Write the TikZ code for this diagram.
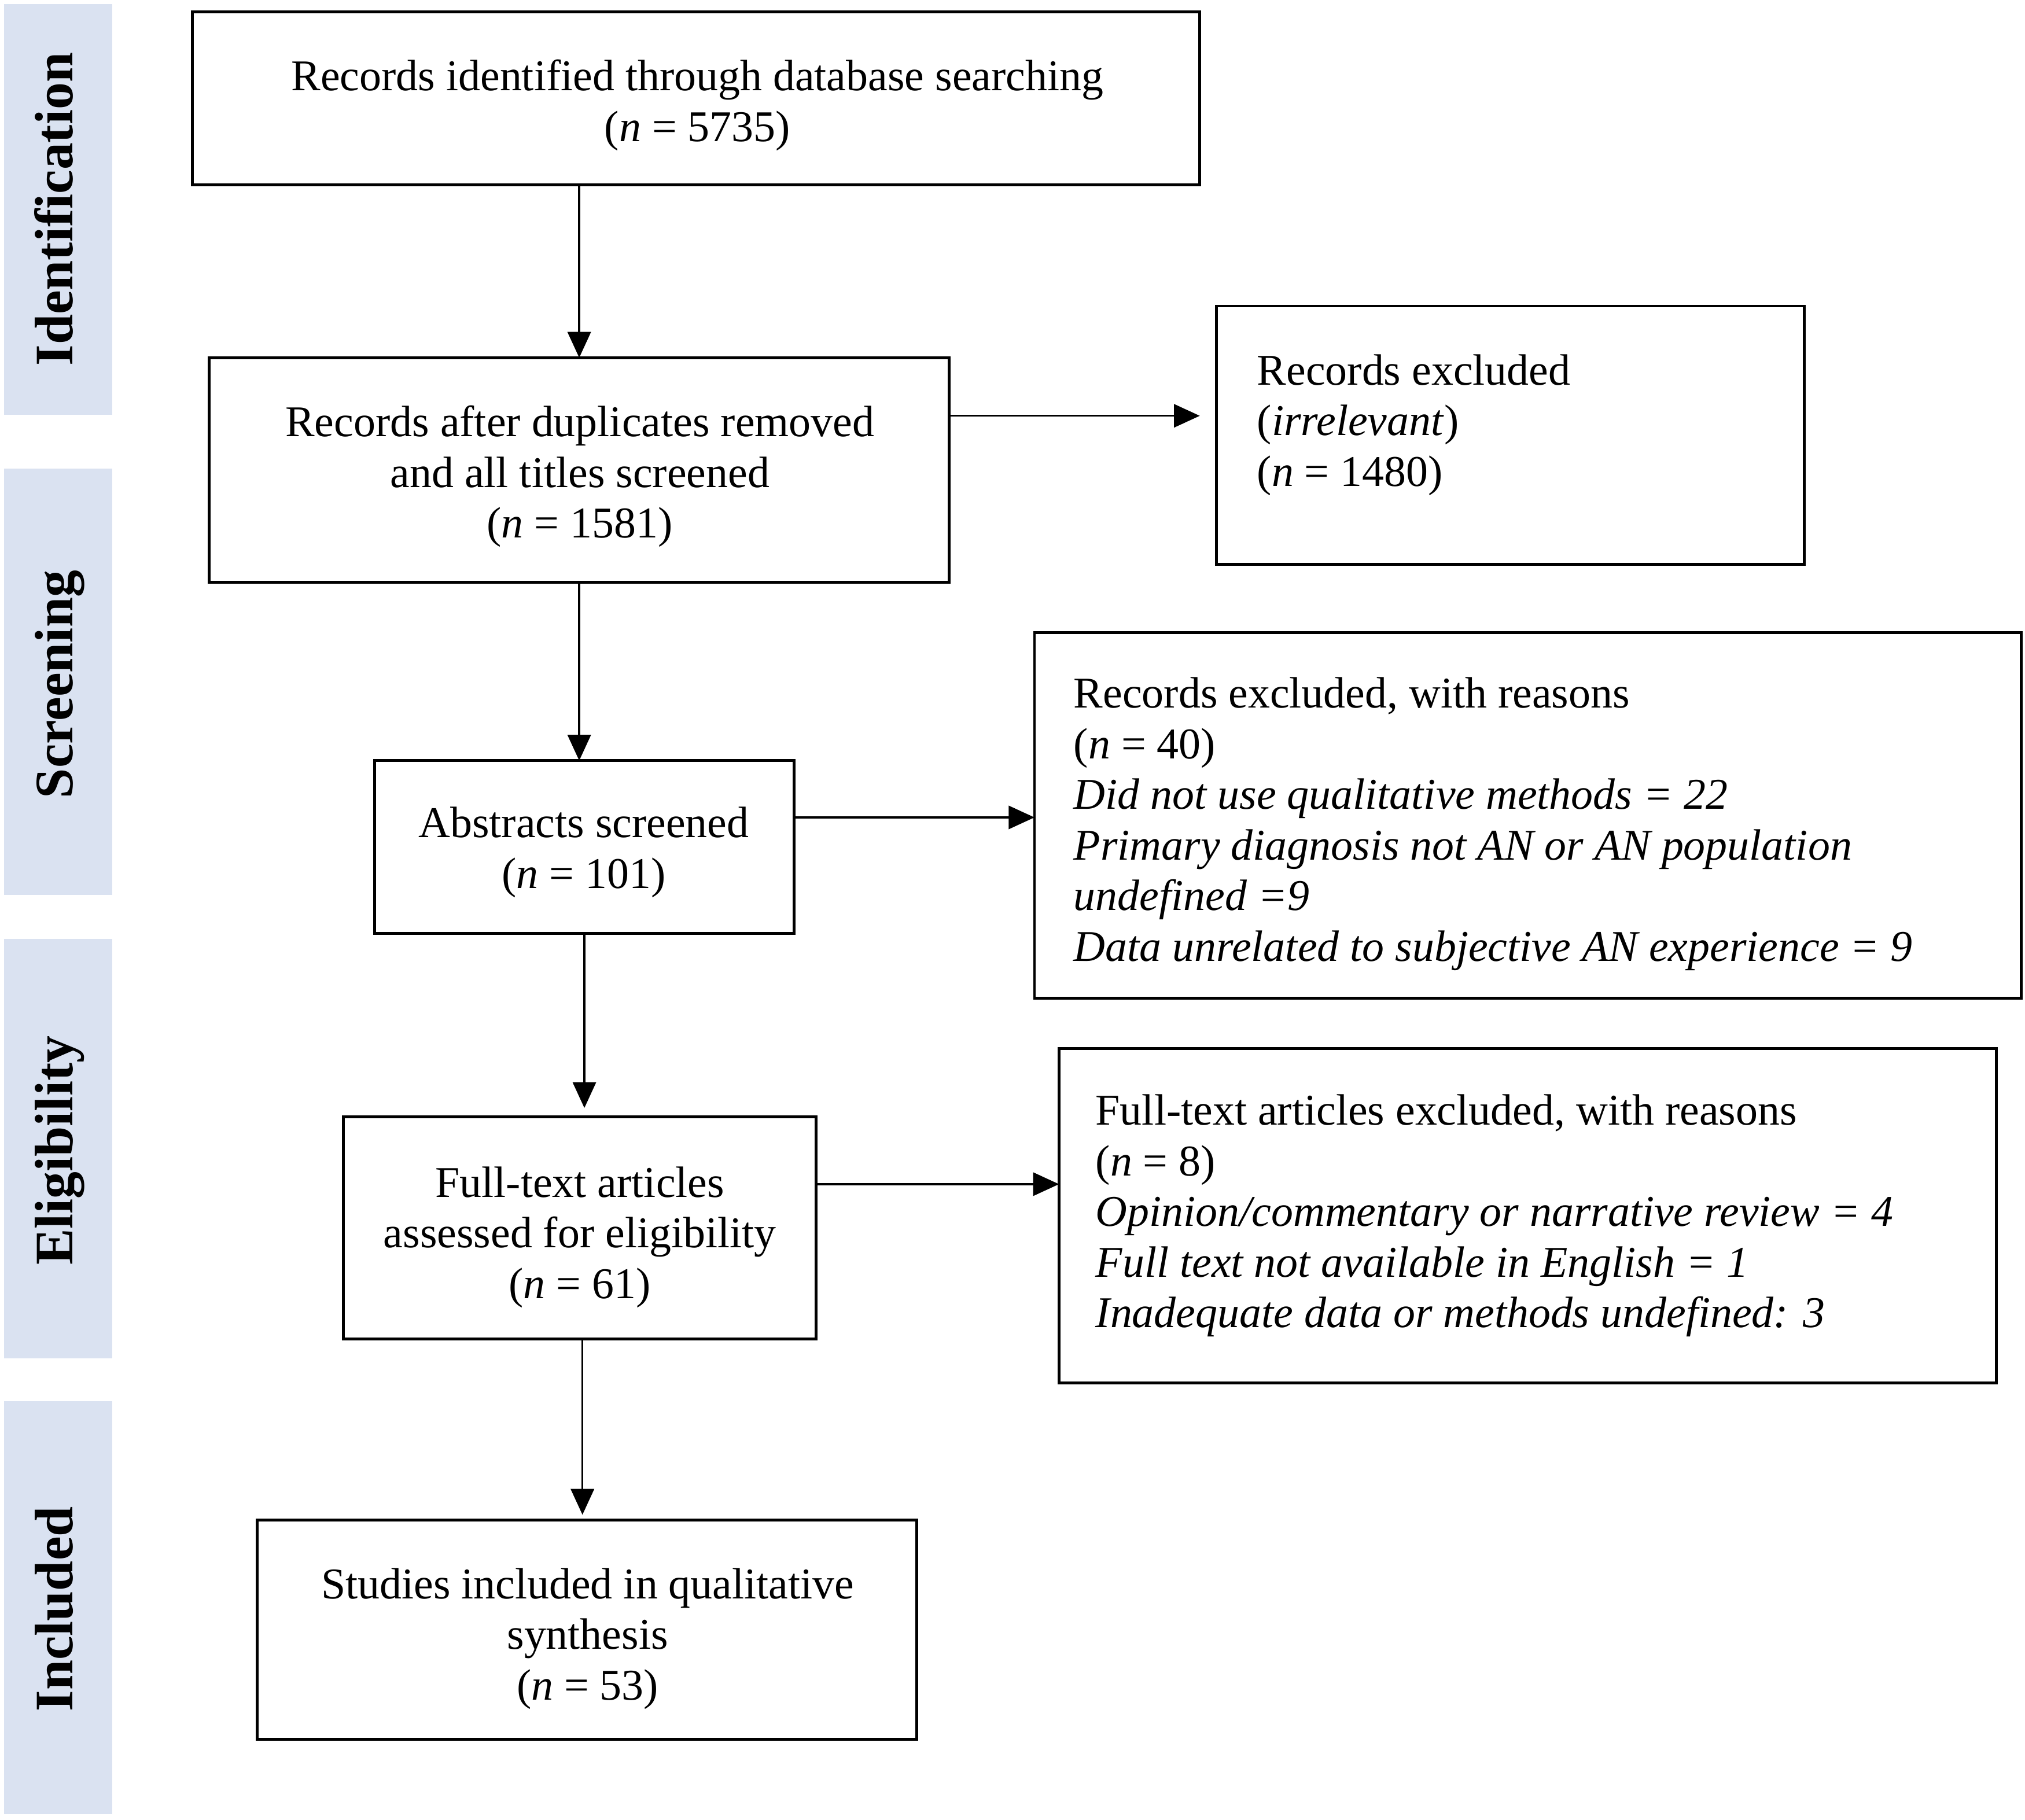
\documentclass[tikz,border=0pt]{standalone}
\usepackage{fontspec}
\setmainfont{Liberation Serif}
\usetikzlibrary{arrows.meta}
\definecolor{bandcol}{RGB}{218,226,241}
\begin{document}
\begin{tikzpicture}[x=0.5pt,y=-0.5pt,
  box/.style={draw=black,line width=1.1pt,inner sep=0pt,outer sep=0pt},
  band/.style={fill=bandcol,draw=none,inner sep=0pt,minimum width=42pt},
  lab/.style={rotate=90,anchor=base,inner sep=0pt,font=\fontsize{21}{24}\selectfont\bfseries},
  txt/.style={inner sep=0pt,font=\fontsize{17}{19.6}\selectfont},
  ctxt/.style={txt,align=center},
  ltxt/.style={txt,align=left,anchor=west},
  arr/.style={line width=0.75pt,-{Triangle[length=10pt,width=9pt]}}]
\useasboundingbox (0,0) rectangle (1568,1409);
% phase bands
\node[band,minimum height=159pt] (sb1) at (45,162) {};
\node[band,minimum height=165pt] (sb2) at (45,528) {};
\node[band,minimum height=162.5pt] (sb3) at (45,889.5) {};
\node[band,minimum height=160pt] (sb4) at (45,1245) {};
\node[lab] (l1) at (56,162) {Identification};
\node[lab] (l2) at (56,530) {Screening};
\node[lab] (l3) at (56,891) {Eligibility};
\node[lab] (l4) at (56,1246) {Included};
% boxes
\node[box,minimum width=390pt,minimum height=67pt] (b1) at (539,76) {};
\node[box,minimum width=286.5pt,minimum height=87pt] (b2) at (448.5,364) {};
\node[box,minimum width=227.5pt,minimum height=100pt] (b3) at (1169.5,337) {};
\node[box,minimum width=162.5pt,minimum height=67pt] (b4) at (452.5,656) {};
\node[box,minimum width=382pt,minimum height=141.5pt] (b5) at (1183,631.5) {};
\node[box,minimum width=183pt,minimum height=86pt] (b6) at (449,951) {};
\node[box,minimum width=363pt,minimum height=129.5pt] (b7) at (1183,941.5) {};
\node[box,minimum width=255.5pt,minimum height=85pt] (b8) at (454.5,1262) {};
% texts
\node[ctxt] (t1) at (540,81.5) {Records identified through database searching\\(\textit{n} = 5735)};
\node[ctxt] (t2) at (449,369) {Records after duplicates removed\\and all titles screened\\(\textit{n} = 1581)};
\node[ltxt] (t3) at (973,329) {Records excluded\\(\textit{irrelevant})\\(\textit{n} = 1480)};
\node[ctxt] (t4) at (452,660) {Abstracts screened\\(\textit{n} = 101)};
\node[ltxt] (t5) at (831,638) {Records excluded, with reasons\\(\textit{n} = 40)\\\textit{Did not use qualitative methods = 22}\\\textit{Primary diagnosis not AN or AN population}\\\textit{undefined =9}\\\textit{Data unrelated to subjective AN experience = 9}};
\node[ctxt] (t6) at (449,958) {Full-text articles\\assessed for eligibility\\(\textit{n} = 61)};
\node[ltxt] (t7) at (848,941.5) {Full-text articles excluded, with reasons\\(\textit{n} = 8)\\\textit{Opinion/commentary or narrative review = 4}\\\textit{Full text not available in English = 1}\\\textit{Inadequate data or methods undefined: 3}};
\node[ctxt] (t8) at (455,1269) {Studies included in qualitative\\synthesis\\(\textit{n} = 53)};
% vertical connectors
\draw[arr] (b2.north |- b1.south) -- (b2.north);
\draw[arr] (b2.south) -- (b2.south |- b4.north);
\draw[arr,shorten >=3.5pt] (b4.south) -- (b4.south |- b6.north);
\draw[arr,shorten >=2pt] ([xshift=1pt]b6.south) -- ([xshift=1pt]b6.south |- b8.north);
% horizontal connectors
\draw[arr,shorten >=6.5pt] ([yshift=21pt]b2.east) -- ([yshift=21pt]b2.east -| b3.west);
\draw[arr] ([yshift=11.5pt]b4.east) -- ([yshift=11.5pt]b4.east -| b5.west);
\draw[arr] ([yshift=17pt]b6.east) -- ([yshift=17pt]b6.east -| b7.west);
\end{tikzpicture}
\end{document}
